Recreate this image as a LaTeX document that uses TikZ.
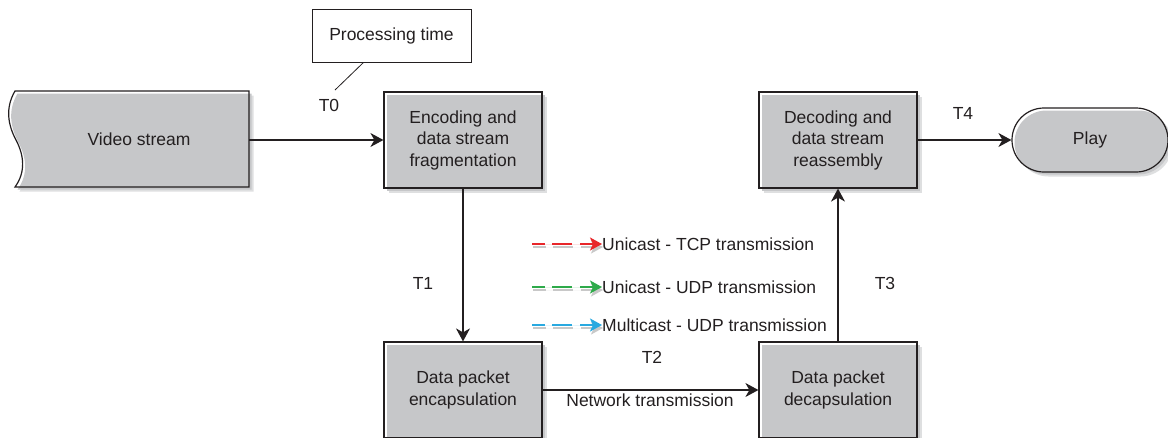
\documentclass[tikz,border=0pt]{standalone}
\usepackage{fontspec}
\setmainfont{Liberation Sans}
\usetikzlibrary{arrows.meta,shapes.misc,shadows}

\definecolor{boxgray}{RGB}{198,199,201}
\definecolor{shadelite}{RGB}{222,223,224}
\definecolor{ink}{RGB}{35,31,32}
\definecolor{tcpred}{RGB}{232,38,42}
\definecolor{udpgreen}{RGB}{46,170,74}
\definecolor{mcblue}{RGB}{41,169,224}
\definecolor{legshade}{RGB}{200,200,200}

\tikzset{
  lbl/.style={font=\fontsize{17.5}{21.5}\selectfont, text=ink, inner sep=0pt},
  procbox/.style={lbl, draw=ink, line width=1.2pt, align=center,
    minimum width=158pt, minimum height=96pt,
    drop shadow={shadow xshift=4.5pt, shadow yshift=-4.5pt, fill=shadelite, opacity=1},
    drop shadow={shadow xshift=2.5pt, shadow yshift=-2.5pt, fill=boxgray, opacity=1}},
  termbox/.style={procbox, rounded rectangle, minimum width=156pt, minimum height=64pt},
  flow/.style={draw=ink, line width=1.3pt, -{Stealth[length=13pt,width=14pt,inset=4pt]}},
  legarrow/.style={line width=2pt, dash pattern=on 13pt off 7pt on 20pt off 8pt on 40pt,
    -{Stealth[length=12pt,width=13pt,inset=3pt]}},
}

\begin{document}
\begin{tikzpicture}[x=1pt,y=-1pt]
\useasboundingbox (0,0) rectangle (1168,437);

% source: video stream with a wavy left edge
\fill[shadelite] (19.5,95.5) .. controls (9.5,112.5) and (12.5,129.5) .. (20.5,144.5)
   .. controls (28.5,159.5) and (30.5,176.5) .. (19.5,191.5) -- (253.5,191.5) -- (253.5,95.5) -- cycle;
\fill[boxgray] (17.5,93.5) .. controls (7.5,110.5) and (10.5,127.5) .. (18.5,142.5)
   .. controls (26.5,157.5) and (28.5,174.5) .. (17.5,189.5) -- (251.5,189.5) -- (251.5,93.5) -- cycle;
\draw[ink, line width=1.2pt] (15,91) .. controls (5,108) and (8,125) .. (16,140)
   .. controls (24,155) and (26,172) .. (15,187) -- (249,187) -- (249,91) -- cycle;
\node[lbl] (vs) at (139,139) {Video stream};
\coordinate (vsout) at (249,140);

% processing stages
\node[procbox] (enc)   at (463,140) {Encoding and\\data stream\\fragmentation};
\node[procbox] (encap) at (463,390) {Data packet\\encapsulation};
\node[procbox] (decap) at (838,390) {Data packet\\decapsulation};
\node[procbox] (dec)   at (838,140) {Decoding and\\data stream\\reassembly};
\node[termbox] (play)  at (1090,140) {Play};

% callout
\node[lbl, draw=ink, line width=0.9pt, minimum width=159pt, minimum height=53pt]
  (proc) at (391.5,35.5) {Processing time};
\coordinate (calltip) at (335,90);
\draw[ink, line width=0.8pt] ([xshift=-28pt]proc.south) -- (calltip);

% flow connectors
\draw[flow] (vsout) -- (enc.west);
\draw[flow] (enc.south) -- (encap.north);
\draw[flow] (encap.east) -- (decap.west);
\draw[flow] (decap.north) -- (dec.south);
\draw[flow] (dec.east) -- (play.west);

% time labels
\node[lbl] (t0) at (329,105) {T0};
\node[lbl] (t1) at (423,283) {T1};
\node[lbl] (t2) at (652,357) {T2};
\node[lbl] (t3) at (885,283) {T3};
\node[lbl] (t4) at (963,113) {T4};
\node[lbl] (net) at (650,400) {Network transmission};

% legend
\node[lbl, anchor=west] (lg1) at (602,244) {Unicast - TCP transmission};
\node[lbl, anchor=west] (lg2) at (602,287) {Unicast - UDP transmission};
\node[lbl, anchor=west] (lg3) at (602,325) {Multicast - UDP transmission};
\coordinate (ls1) at (532,244);
\coordinate (ls2) at (532,287);
\coordinate (ls3) at (532,325);
\foreach \s/\t/\c in {ls1/lg1/tcpred, ls2/lg2/udpgreen, ls3/lg3/mcblue}{
  \draw[legarrow, draw=legshade, fill=legshade] ([xshift=1pt,yshift=-3pt]\s) -- ([xshift=1pt,yshift=-3pt]\t.west);
  \draw[legarrow, draw=\c, fill=\c] (\s) -- (\t.west);
}
\end{tikzpicture}
\end{document}
